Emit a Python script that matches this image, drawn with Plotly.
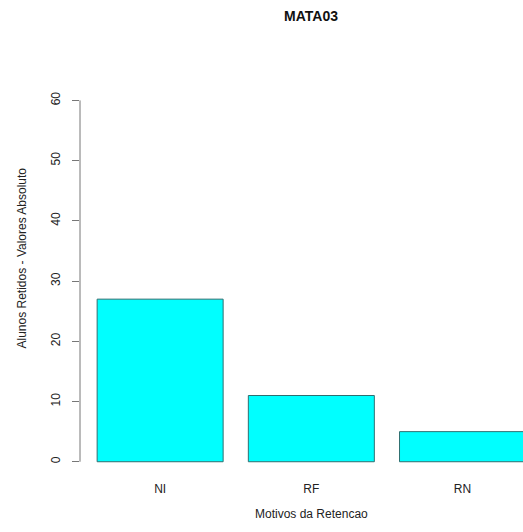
import plotly.graph_objects as go

categories = ["NI", "RF", "RN"]
values = [27, 11, 5]
y_ticks = [0, 10, 20, 30, 40, 50, 60]
title_text = "MATA03"
x_title = "Motivos da Retencao"
y_title = "Alunos Retidos - Valores Absoluto"

W, H = 523, 532
ML, MR, MT, MB = 80, 0, 39, 54
FONT = "Liberation Sans, Arial, sans-serif"
PW, PH = W - ML - MR, H - MT - MB

fig = go.Figure()
fig.add_trace(go.Bar(
    x=categories, y=values,
    marker=dict(color="#00FFFF", line=dict(color="#2f6f70", width=1)),
    hoverinfo="x+y",
))

fig.update_layout(
    width=W, height=H,
    margin=dict(l=ML, r=MR, t=MT, b=MB, autoexpand=False),
    paper_bgcolor="white", plot_bgcolor="white",
    bargap=1 - 1 / 1.2,
    showlegend=False,
    font=dict(family=FONT, size=12, color="#222"),
    title=dict(text="<b>" + title_text + "</b>", x=311 / W, xref="container",
               xanchor="center", y=1 - 16.5 / H, yref="container", yanchor="middle",
               font=dict(family=FONT, size=14, color="#111")),
    xaxis=dict(
        range=[-0.53, 2.40], showline=False, showgrid=False, zeroline=False,
        ticks="", ticklabelstandoff=2, tickfont=dict(size=12, color="#222"),
        automargin=False, fixedrange=True,
    ),
    yaxis=dict(
        range=[-2.7, 70.2], showline=False, showgrid=False, zeroline=False,
        tickmode="array", tickvals=y_ticks, ticktext=[str(v) for v in y_ticks],
        ticks="outside", ticklen=7, tickcolor="#777", tickwidth=1,
        tickangle=-90, ticklabelstandoff=7, tickfont=dict(size=12, color="#222"),
        automargin=False, fixedrange=True,
    ),
)

# y axis line spanning the tick range only (R style)
fig.add_shape(type="line", xref="paper", yref="y", x0=0, x1=0,
              y0=min(y_ticks), y1=max(y_ticks), line=dict(color="#777", width=1))

# axis titles
fig.add_annotation(text=x_title, xref="paper", yref="paper",
                   x=(311 - ML) / PW, y=-(514 - (H - MB)) / PH,
                   xanchor="center", yanchor="middle", showarrow=False,
                   font=dict(family=FONT, size=12, color="#222"))
fig.add_annotation(text=y_title, xref="paper", yref="paper",
                   x=(21 - ML) / PW, y=0.5, textangle=-90,
                   xanchor="center", yanchor="middle", showarrow=False,
                   font=dict(family=FONT, size=12, color="#222"))

fig.write_html(
    "out.html",
    config={"displayModeBar": False},
    post_script="document.body.style.margin='0';document.body.style.overflow='hidden';",
)
